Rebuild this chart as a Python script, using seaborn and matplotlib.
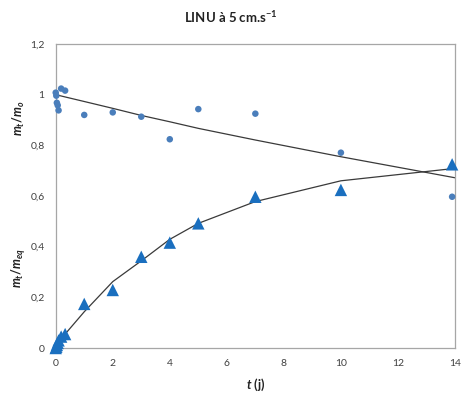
import matplotlib
matplotlib.use("Agg")
import matplotlib.pyplot as plt
import seaborn as sns
import pandas as pd
from matplotlib.ticker import FuncFormatter, MultipleLocator

# Data
t_obs = [0, 0.02, 0.04, 0.07, 0.1, 0.19, 0.33, 1, 2, 3, 4, 5, 7, 10, 13.9]
mt_m0 = [1.008, 0.996, 0.968, 0.958, 0.938, 1.024, 1.016, 0.92, 0.93, 0.913,
         0.824, 0.943, 0.925, 0.771, 0.597]
mt_meq = [0, 0.005, 0.012, 0.02, 0.03, 0.045, 0.055, 0.174, 0.229, 0.36,
          0.416, 0.492, 0.597, 0.624, 0.725]

t_model = [0, 0.33, 1, 2, 3, 4, 5, 7, 10, 14]
model_m0 = [1.0, 0.991, 0.973, 0.946, 0.918, 0.893, 0.867, 0.821, 0.755, 0.672]
model_meq = [0, 0.055, 0.143, 0.262, 0.344, 0.429, 0.492, 0.578, 0.66, 0.709]

title = "LINU à 5 cm.s$^{-1}$"
xlabel = "$t$ (j)"

sns.set_style("white")
plt.rcParams["font.family"] = ["Lato", "DejaVu Sans"]
plt.rcParams["mathtext.fontset"] = "custom"
plt.rcParams["mathtext.it"] = "Lato:italic:bold"
plt.rcParams["mathtext.rm"] = "Lato:bold"
plt.rcParams["mathtext.bf"] = "Lato:bold"

fig = plt.figure(figsize=(4.62, 3.96), dpi=100)
ax = fig.add_axes([0.1206, 0.1212, 0.8642, 0.7677])

obs = pd.DataFrame({"t": t_obs, "m0": mt_m0, "meq": mt_meq})
mod = pd.DataFrame({"t": t_model, "m0": model_m0, "meq": model_meq})

sns.lineplot(data=mod, x="t", y="m0", ax=ax, color="#3a3a3a", lw=0.9,
             estimator=None, sort=False, zorder=2)
sns.lineplot(data=mod, x="t", y="meq", ax=ax, color="#3a3a3a", lw=0.9,
             estimator=None, sort=False, zorder=2)
sns.scatterplot(data=obs, x="t", y="m0", ax=ax, color="#4a7ebb", s=22,
                marker="o", edgecolor="none", zorder=3, clip_on=False)
sns.scatterplot(data=obs, x="t", y="meq", ax=ax, color="#1a6fbf", s=80,
                marker="^", edgecolor="none", zorder=3, clip_on=False)

ax.set_xlim(0, 14)
ax.set_ylim(0, 1.2)
ax.xaxis.set_major_locator(MultipleLocator(2))
ax.yaxis.set_major_locator(MultipleLocator(0.2))
fmt = FuncFormatter(lambda v, p: ("%g" % round(v, 2)).replace(".", ","))
ax.xaxis.set_major_formatter(fmt)
ax.yaxis.set_major_formatter(fmt)

for s in ax.spines.values():
    s.set_color("#a6a6a6")
    s.set_linewidth(0.9)
ax.tick_params(axis="both", direction="inout", length=6, width=0.8,
               color="#a6a6a6", labelsize=7.5, labelcolor="#404040", pad=3)
ax.tick_params(axis="x", pad=5)
ax.tick_params(axis="y", pad=5)

ax.set_xlabel(xlabel, fontsize=9, fontweight="bold", color="#222222", labelpad=6)
ax.set_ylabel("")

fig.text(0.5, 0.958, title, ha="center", va="center", fontsize=9.5,
         fontweight="bold", color="#222222")
fig.text(0.040, 1 - 118 / 396, "$m_t/m_o$", rotation=90, ha="center",
         va="center", fontsize=9, color="#222222")
fig.text(0.040, 1 - 268 / 396, "$m_t/m_{eq}$", rotation=90, ha="center",
         va="center", fontsize=9, color="#222222")

fig.savefig("out.png", dpi=100)
